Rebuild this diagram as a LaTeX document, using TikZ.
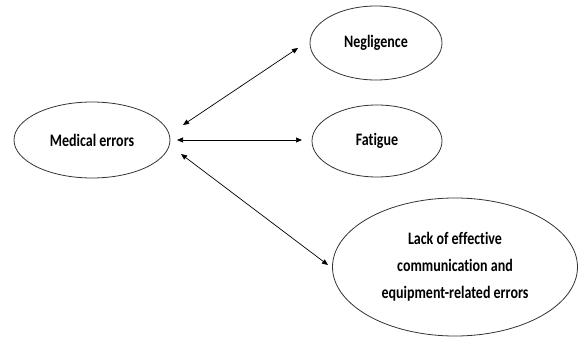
\documentclass[tikz,border=0pt]{standalone}
\usepackage{fontspec}
\setmainfont[Ligatures=NoCommon]{Carlito}
\usetikzlibrary{shapes.geometric}
\usetikzlibrary{arrows.meta}
\usetikzlibrary{positioning}

\newcommand{\tallword}[1]{\scalebox{1}[1.25]{#1}}

\tikzset{
	bubble/.style={draw=black!80, line width=0.8pt, ellipse, inner sep=0pt,
		font=\bfseries\fontsize{14}{27}\selectfont, align=center},
	link/.style={line width=0.7pt, {Triangle[length=6pt,width=5pt]}-{Triangle[length=6pt,width=5pt]}}
}

\begin{document}
\begin{tikzpicture}[x=1pt, y=-1pt]
	\useasboundingbox (0,0) rectangle (579,337);
	\node[bubble, minimum width=156pt, minimum height=76pt] (med) at (92, 140) {\tallword{Medical errors}};
	\node[bubble, minimum width=132pt, minimum height=74pt] (neg) at (376, 43) {\tallword{Negligence}};
	\node[bubble, minimum width=130pt, minimum height=72pt] (fat) at (377, 141) {\tallword{Fatigue}};
	\node[bubble, minimum width=245pt, minimum height=138pt] (lack) at (455, 267) {\tallword{Lack of effective}\\\tallword{communication and}\\\tallword{equipment-related errors}};
	% arrow ends
	\coordinate (m1) at (183, 125);
	\coordinate (m2) at (177, 140);
	\coordinate (m3) at (181, 154);
	\coordinate (n1) at (298, 48);
	\coordinate (f1) at (302, 140);
	\coordinate (l1) at (328, 265);
	\draw [link] (m1) to (n1);
	\draw [link] (m2) to (f1);
	\draw [link] (m3) to (l1);
\end{tikzpicture}
\end{document}
